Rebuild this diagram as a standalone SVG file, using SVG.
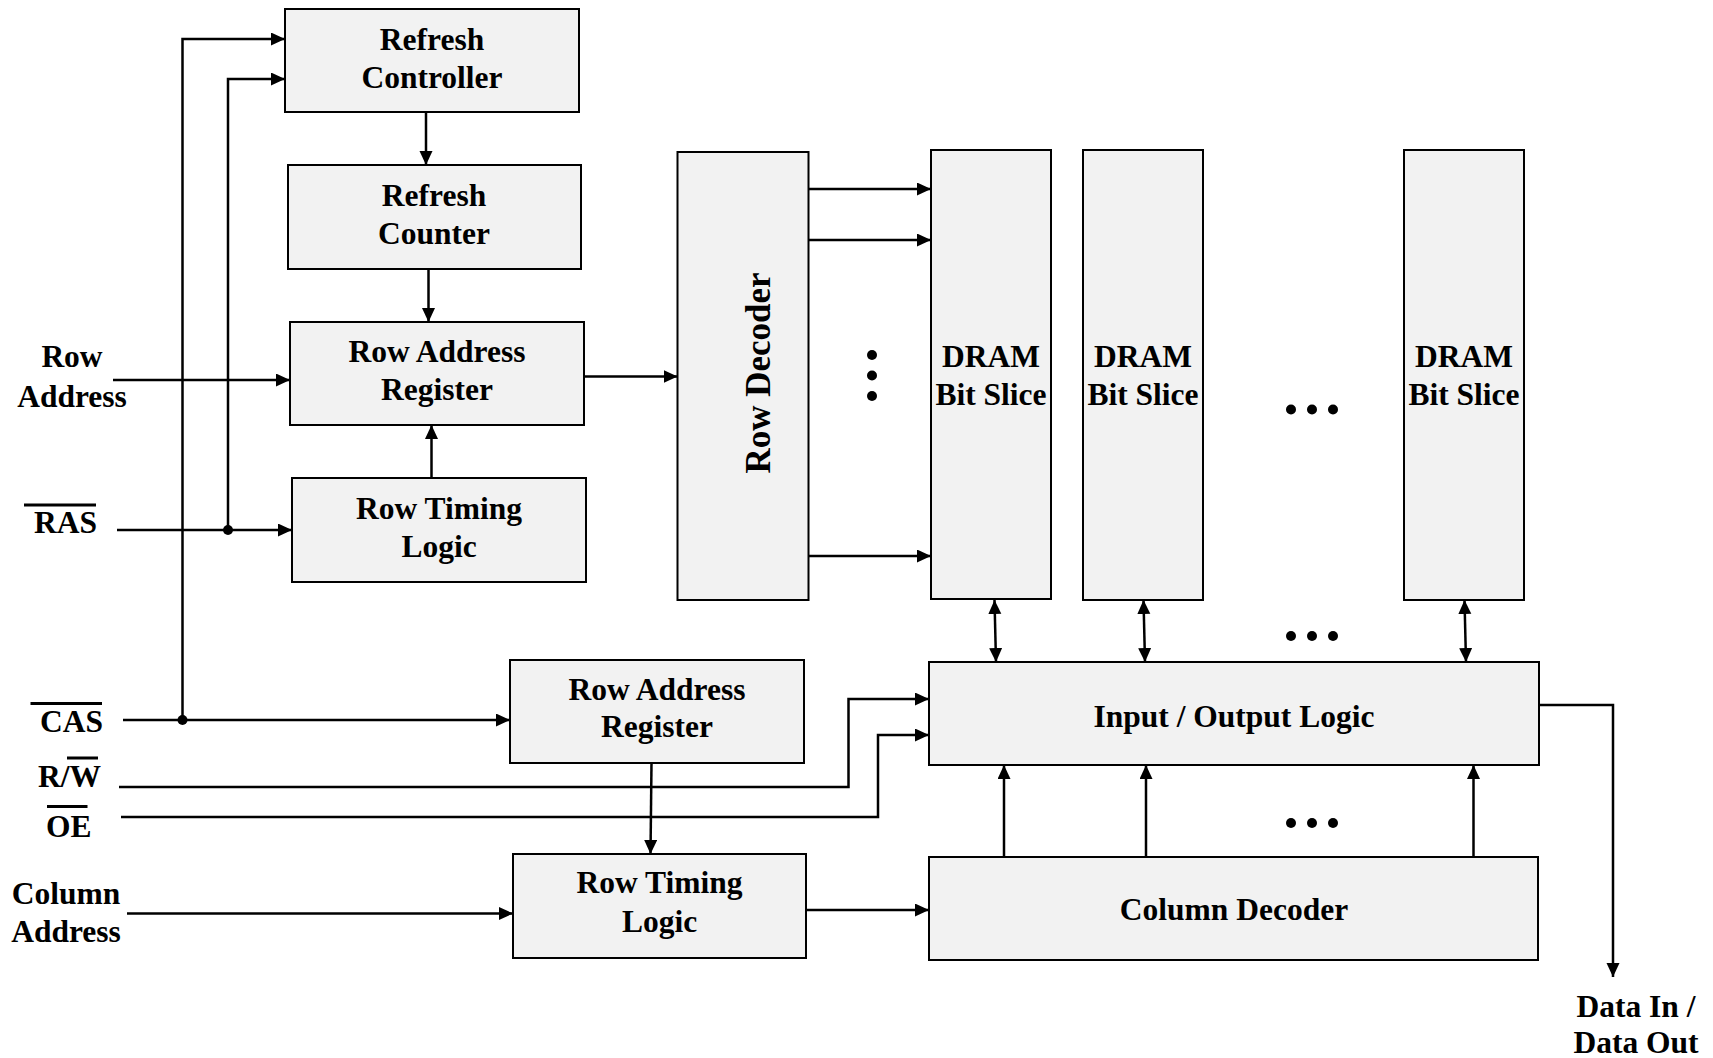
<svg xmlns="http://www.w3.org/2000/svg" width="1713" height="1058" viewBox="0 0 1713 1058">
  <style>
    .box { fill: #f2f2f2; stroke: #000; stroke-width: 2; }
    .lbl { font-family: "Liberation Serif", "Times New Roman", serif; font-weight: bold; font-size: 31.5px; fill: #000; }
    .mid { text-anchor: middle; }
    .wire { fill: none; stroke: #000; stroke-width: 2.5; }
    .arr { marker-end: url(#head); }
    .bi { marker-start: url(#head); marker-end: url(#head); }
    .bar { stroke: #000; stroke-width: 3; }
    .dot { fill: #000; }
  </style>
  <defs>
    <marker id="head" markerUnits="userSpaceOnUse" markerWidth="14" markerHeight="14" refX="14" refY="6.5" orient="auto-start-reverse">
      <path d="M0,0 L14,6.5 L0,13 z" fill="#000"/>
    </marker>
  </defs>
  <rect width="1713" height="1058" fill="#fff"/>

  <!-- blocks -->
  <g id="refresh-controller">
    <rect class="box" x="285" y="9" width="294" height="103"/>
    <text class="lbl mid" x="432" y="50">Refresh</text>
    <text class="lbl mid" x="432" y="88">Controller</text>
  </g>
  <g id="refresh-counter">
    <rect class="box" x="288" y="165" width="293" height="104"/>
    <text class="lbl mid" x="434" y="205.5">Refresh</text>
    <text class="lbl mid" x="434" y="244">Counter</text>
  </g>
  <g id="row-address-register">
    <rect class="box" x="290" y="322" width="294" height="103"/>
    <text class="lbl mid" x="437" y="362">Row Address</text>
    <text class="lbl mid" x="437" y="400">Register</text>
  </g>
  <g id="row-timing-logic">
    <rect class="box" x="292" y="478" width="294" height="104"/>
    <text class="lbl mid" x="439" y="518.5">Row Timing</text>
    <text class="lbl mid" x="439" y="557">Logic</text>
  </g>
  <g id="row-decoder">
    <rect class="box" x="677.5" y="152" width="131" height="448"/>
    <text class="lbl mid" style="font-size:35px" transform="translate(770,373) rotate(-90)">Row Decoder</text>
  </g>
  <g id="bit-slice-1">
    <rect class="box" x="931" y="150" width="120" height="449"/>
    <text class="lbl mid" x="991" y="367">DRAM</text>
    <text class="lbl mid" x="991" y="405">Bit Slice</text>
  </g>
  <g id="bit-slice-2">
    <rect class="box" x="1083" y="150" width="120" height="450"/>
    <text class="lbl mid" x="1143" y="367">DRAM</text>
    <text class="lbl mid" x="1143" y="405">Bit Slice</text>
  </g>
  <g id="bit-slice-n">
    <rect class="box" x="1404" y="150" width="120" height="450"/>
    <text class="lbl mid" x="1464" y="367">DRAM</text>
    <text class="lbl mid" x="1464" y="405">Bit Slice</text>
  </g>
  <g id="io-logic">
    <rect class="box" x="929" y="662" width="610" height="103"/>
    <text class="lbl mid" x="1234" y="726.5">Input / Output Logic</text>
  </g>
  <g id="column-decoder">
    <rect class="box" x="929" y="857" width="609" height="103"/>
    <text class="lbl mid" x="1234" y="920">Column Decoder</text>
  </g>
  <g id="column-address-register">
    <rect class="box" x="510" y="660" width="294" height="103"/>
    <text class="lbl mid" x="657" y="700">Row Address</text>
    <text class="lbl mid" x="657" y="737">Register</text>
  </g>
  <g id="column-timing-logic">
    <rect class="box" x="513" y="854" width="293" height="104"/>
    <text class="lbl mid" x="659.5" y="893">Row Timing</text>
    <text class="lbl mid" x="659.5" y="931.5">Logic</text>
  </g>

  <!-- signal labels -->
  <g id="signal-labels">
    <text class="lbl mid" x="72" y="367">Row</text>
    <text class="lbl mid" x="72" y="406.5">Address</text>
    <text class="lbl" x="34" y="532.5">RAS</text>
    <line class="bar" x1="24" y1="505" x2="96" y2="505"/>
    <text class="lbl" x="40" y="731.5">CAS</text>
    <line class="bar" x1="30.5" y1="703.5" x2="102" y2="703.5"/>
    <text class="lbl" x="38" y="786.5">R/W</text>
    <line class="bar" x1="67" y1="758" x2="98" y2="758"/>
    <text class="lbl" x="46" y="836.5">OE</text>
    <line class="bar" x1="47" y1="806.5" x2="87.5" y2="806.5"/>
    <text class="lbl mid" x="66" y="904">Column</text>
    <text class="lbl mid" x="66" y="941.5">Address</text>
    <text class="lbl mid" x="1636" y="1017">Data In /</text>
    <text class="lbl mid" x="1636" y="1053">Data Out</text>
  </g>

  <!-- connectors -->
  <g id="connectors">
    <path class="wire arr" d="M182.5,720 V39 H285"/>
    <path class="wire arr" d="M228,530 V79 H285"/>
    <path class="wire arr" d="M117,530 H292"/>
    <path class="wire arr" d="M113,380 H290"/>
    <path class="wire arr" d="M426,112 V165"/>
    <path class="wire arr" d="M428.5,269 V322"/>
    <path class="wire arr" d="M431.5,478 V425"/>
    <path class="wire arr" d="M584,376.5 H677.5"/>
    <path class="wire arr" d="M808.5,189 H931"/>
    <path class="wire arr" d="M808.5,240 H931"/>
    <path class="wire arr" d="M808.5,556 H931"/>
    <path class="wire bi" d="M994.5,600 L996,662"/>
    <path class="wire bi" d="M1143.5,600 L1145,662"/>
    <path class="wire bi" d="M1464.5,600 L1466,662"/>
    <path class="wire arr" d="M1004,857 V765"/>
    <path class="wire arr" d="M1146,857 V765"/>
    <path class="wire arr" d="M1473.5,857 V765"/>
    <path class="wire arr" d="M1539,705 H1613 V977"/>
    <path class="wire arr" d="M123,720 H510"/>
    <path class="wire arr" d="M119,787 H848.5 V699 H929"/>
    <path class="wire arr" d="M121,817 H878 V735 H929"/>
    <path class="wire arr" d="M651.5,763 L650.5,854"/>
    <path class="wire arr" d="M127,913.5 H513"/>
    <path class="wire arr" d="M806,910 H929"/>
    <circle class="dot" cx="228" cy="530" r="5"/>
    <circle class="dot" cx="182.5" cy="720" r="5"/>
  </g>

  <!-- ellipsis marks -->
  <g id="ellipses">
    <circle class="dot" cx="872" cy="355" r="5"/>
    <circle class="dot" cx="872" cy="375.5" r="5"/>
    <circle class="dot" cx="872" cy="396" r="5"/>
    <circle class="dot" cx="1291" cy="409.5" r="5"/>
    <circle class="dot" cx="1312" cy="409.5" r="5"/>
    <circle class="dot" cx="1333" cy="409.5" r="5"/>
    <circle class="dot" cx="1291" cy="636" r="5"/>
    <circle class="dot" cx="1312" cy="636" r="5"/>
    <circle class="dot" cx="1333" cy="636" r="5"/>
    <circle class="dot" cx="1291" cy="823" r="5"/>
    <circle class="dot" cx="1312" cy="823" r="5"/>
    <circle class="dot" cx="1333" cy="823" r="5"/>
  </g>
</svg>
